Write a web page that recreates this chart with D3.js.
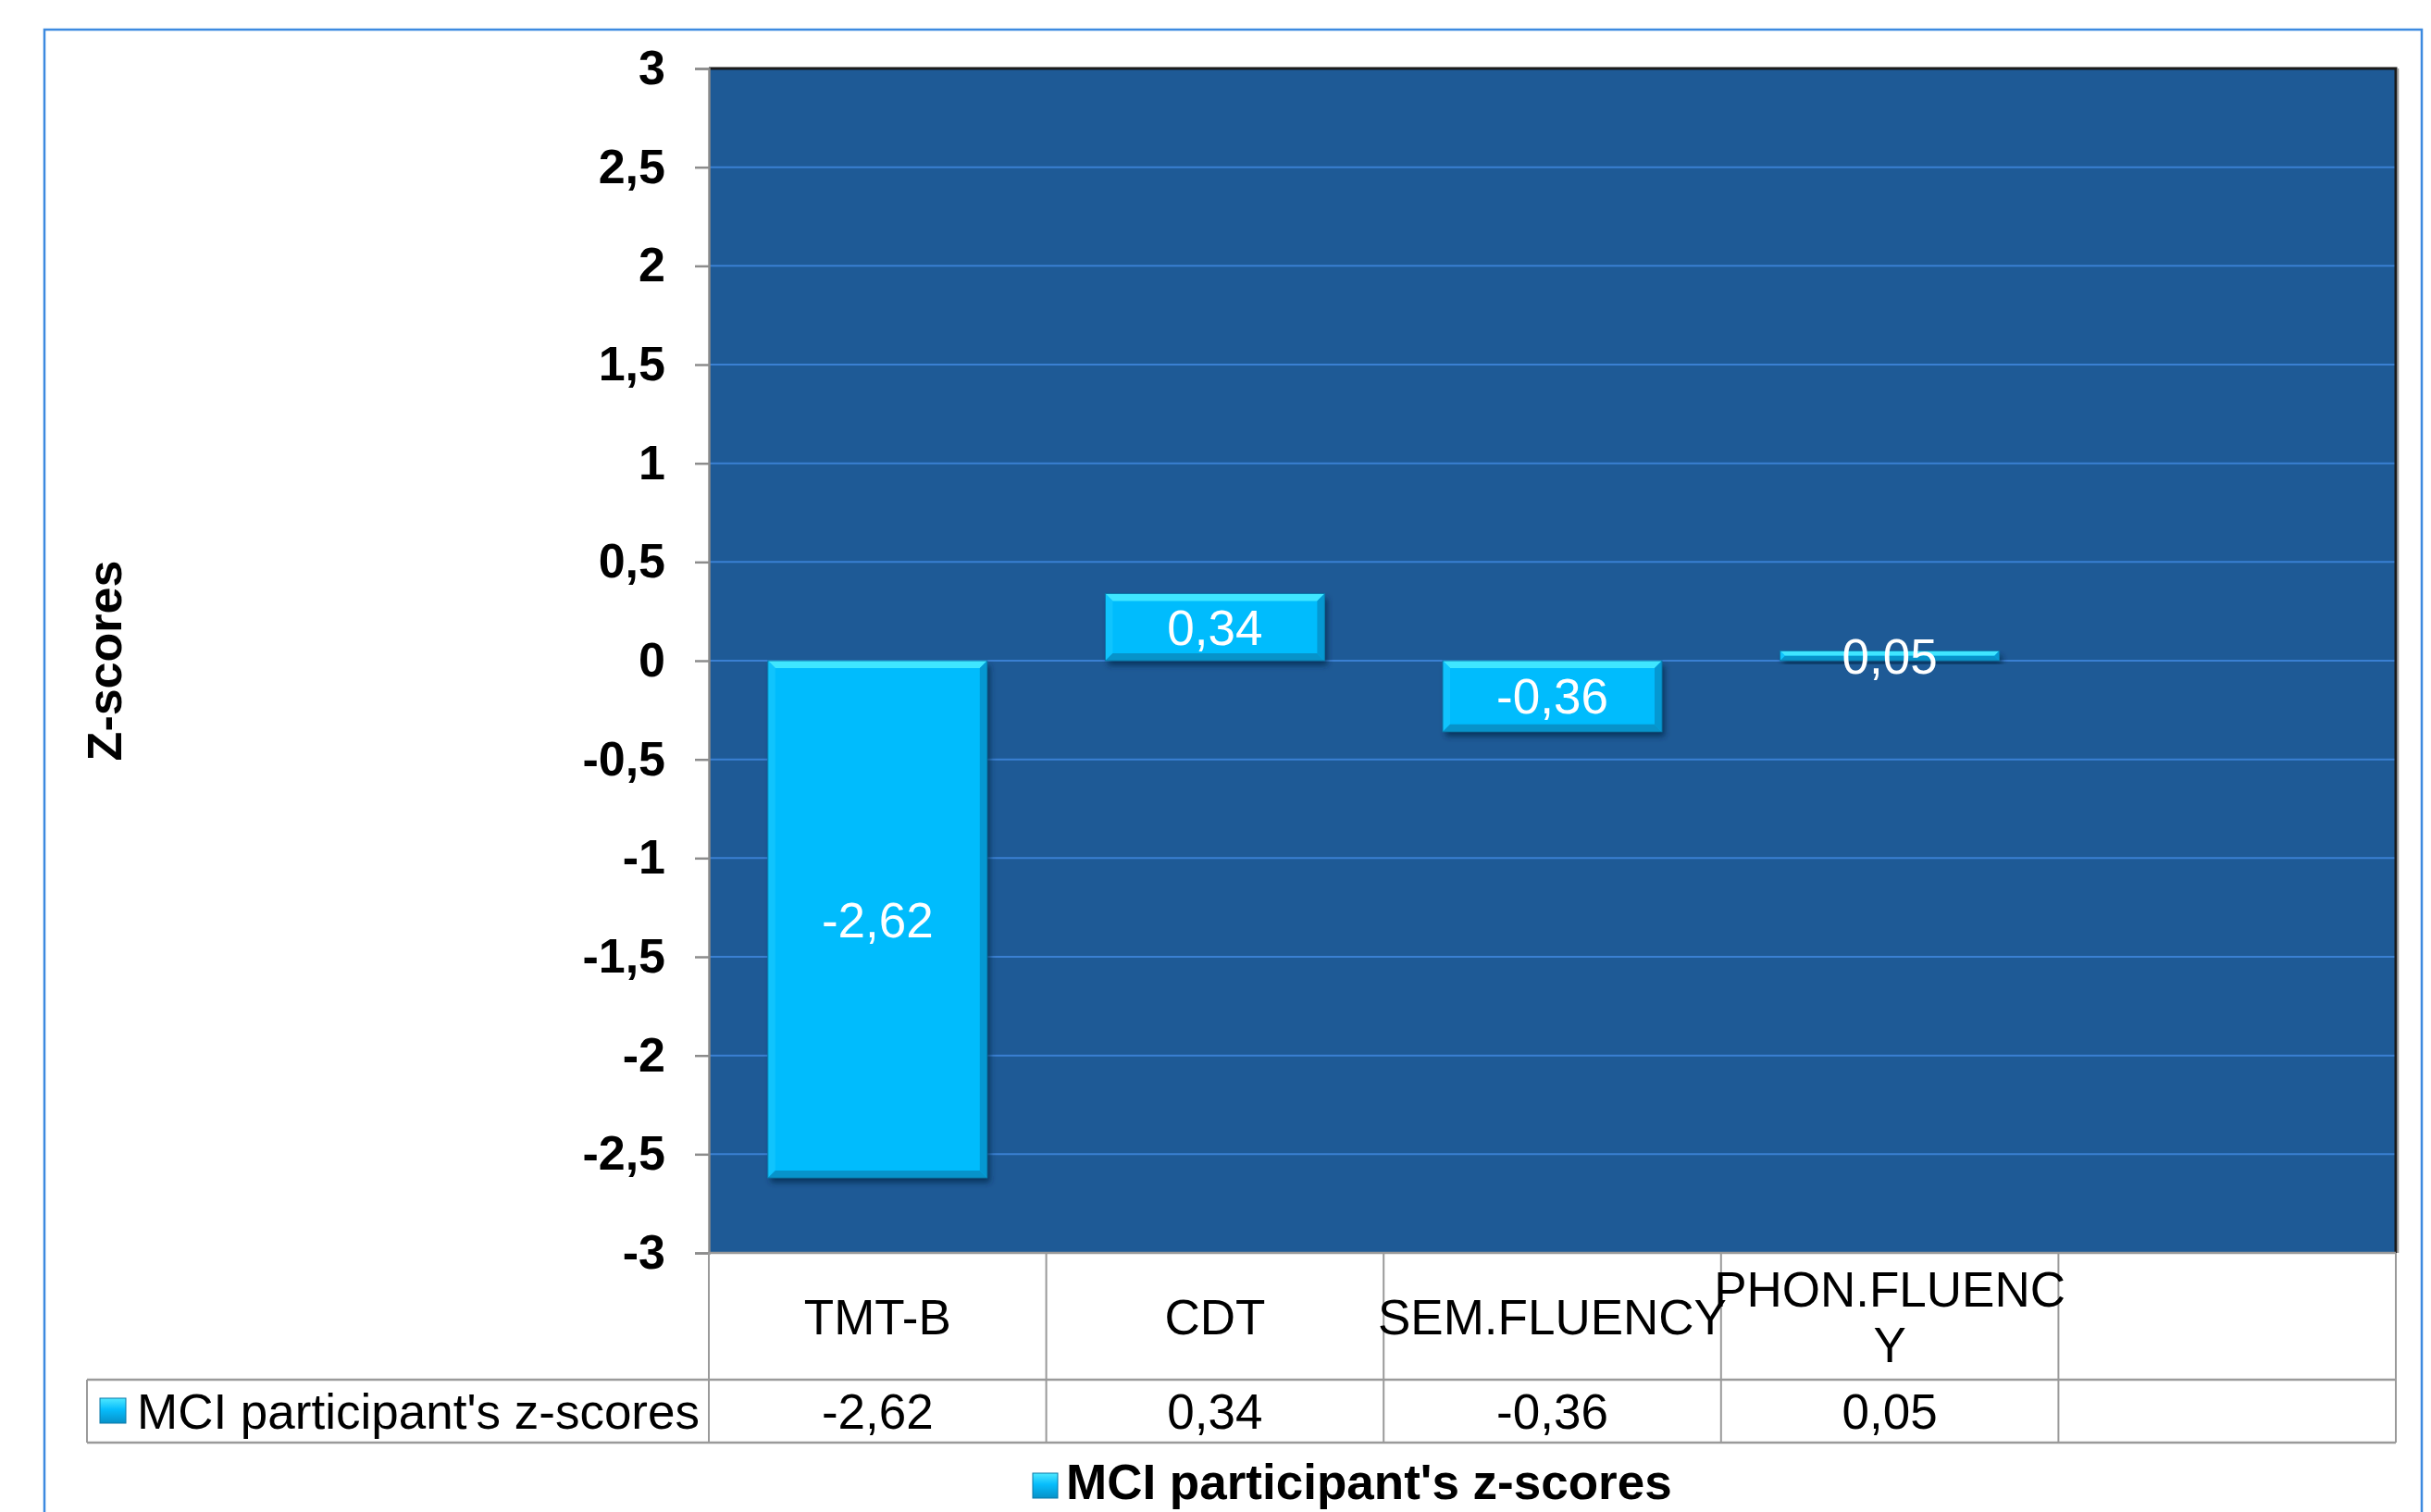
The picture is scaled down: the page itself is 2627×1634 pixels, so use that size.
<!DOCTYPE html>
<html>
<head>
<meta charset="utf-8">
<script src="https://cdn.jsdelivr.net/npm/d3@7"></script>
<style>
  html, body { margin: 0; padding: 0; background: #ffffff; }
  svg { display: block; font-family: "Liberation Sans", Arial, sans-serif; }
</style>
</head>
<body>
<svg id="chart" width="2627" height="1634"></svg>
<script>
// Test categories (the last, empty column is part of the data table layout)
const categories = ["TMT-B", "CDT", "SEM.FLUENCY", "PHON.FLUENCY", ""];
// Z-scores of the MCI participant, one per test
const zScores = [-2.62, 0.34, -0.36, 0.05];
const seriesName = "MCI participant's z-scores";
const yTitle = "Z-scores";
const yTicks = [-3, -2.5, -2, -1.5, -1, -0.5, 0, 0.5, 1, 1.5, 2, 2.5, 3];

const svg = d3.select("#chart");
const W = 2627, H = 1634;
const textSize = 53;

const plot = { left: 766, right: 2589, top: 74, bottom: 1354 };
const table = { catBottom: 1491, valBottom: 1559, keyLeft: 94 };

const fmt = v => String(v).replace(".", ",");

const x = d3.scaleBand()
  .domain(categories)
  .range([plot.left, plot.right])
  .paddingInner(0.35)
  .paddingOuter(0.175);

const y = d3.scaleLinear()
  .domain([-3, 3])
  .range([plot.bottom, plot.top]);

const defs = svg.append("defs");
const shadow = defs.append("filter").attr("id", "barShadow")
  .attr("x", "-10%").attr("y", "-10%").attr("width", "130%").attr("height", "140%");
shadow.append("feDropShadow")
  .attr("dx", 3).attr("dy", 5).attr("stdDeviation", 3)
  .attr("flood-color", "#06264a").attr("flood-opacity", 0.75);

const keyGrad = defs.append("linearGradient").attr("id", "keyGrad")
  .attr("x1", 0).attr("y1", 0).attr("x2", 0).attr("y2", 1);
keyGrad.append("stop").attr("offset", "0%").attr("stop-color", "#4fe8ff");
keyGrad.append("stop").attr("offset", "45%").attr("stop-color", "#07bdfc");
keyGrad.append("stop").attr("offset", "100%").attr("stop-color", "#0791c8");

// Outer chart frame
svg.append("rect")
  .attr("x", 48).attr("y", 32)
  .attr("width", 2617 - 48).attr("height", H)
  .attr("fill", "none")
  .attr("stroke", "#3d8ae0").attr("stroke-width", 2.5);

// Plot background
svg.append("rect")
  .attr("x", plot.left).attr("y", plot.top)
  .attr("width", plot.right - plot.left).attr("height", plot.bottom - plot.top)
  .attr("fill", "#1e5a96");

// Horizontal gridlines
svg.append("g")
  .selectAll("line")
  .data(yTicks.filter(t => t > -3 && t < 3))
  .join("line")
  .attr("x1", plot.left).attr("x2", plot.right)
  .attr("y1", d => y(d)).attr("y2", d => y(d))
  .attr("stroke", "#3a80d2").attr("stroke-width", 2);

// Plot border (top and right) with a soft edge
svg.append("path")
  .attr("d", `M${plot.left},${plot.top}H${plot.right}V${plot.bottom}`)
  .attr("fill", "none").attr("stroke", "#1a1a1a").attr("stroke-width", 3);
svg.append("line")
  .attr("x1", plot.right + 2.5).attr("x2", plot.right + 2.5)
  .attr("y1", plot.top).attr("y2", plot.bottom)
  .attr("stroke", "#9a9a9a").attr("stroke-width", 1.5);

// Bars with bevelled faces
const bars = svg.append("g").selectAll("g.bar")
  .data(zScores.map((v, i) => ({ cat: categories[i], v })))
  .join("g").attr("class", "bar");

bars.each(function (d) {
  const g = d3.select(this);
  const x0 = x(d.cat), w = x.bandwidth();
  const y0 = y(Math.max(0, d.v)), h = Math.abs(y(d.v) - y(0));
  const b = Math.min(8, h / 2, w / 2);
  g.append("rect")
    .attr("x", x0).attr("y", y0).attr("width", w).attr("height", h)
    .attr("fill", "#06bcfd").attr("filter", "url(#barShadow)");
  const faces = [
    { pts: [[x0, y0], [x0 + w, y0], [x0 + w - b, y0 + b], [x0 + b, y0 + b]], fill: "#3fe6ff" },
    { pts: [[x0, y0], [x0 + b, y0 + b], [x0 + b, y0 + h - b], [x0, y0 + h]], fill: "#10c4fd" },
    { pts: [[x0 + w, y0], [x0 + w, y0 + h], [x0 + w - b, y0 + h - b], [x0 + w - b, y0 + b]], fill: "#0598d2" },
    { pts: [[x0, y0 + h], [x0 + b, y0 + h - b], [x0 + w - b, y0 + h - b], [x0 + w, y0 + h]], fill: "#0793ca" }
  ];
  g.selectAll("polygon").data(faces).join("polygon")
    .attr("points", f => f.pts.map(p => p.join(",")).join(" "))
    .attr("fill", f => f.fill);
  g.append("rect")
    .attr("x", x0).attr("y", y0).attr("width", w).attr("height", h)
    .attr("fill", "none").attr("stroke", "#0a78a8").attr("stroke-width", 1);
});

// Data labels centred on the bars
svg.append("g").selectAll("text")
  .data(zScores.map((v, i) => ({ cat: categories[i], v })))
  .join("text")
  .attr("x", d => x(d.cat) + x.bandwidth() / 2)
  .attr("y", d => (y(d.v) + y(0)) / 2)
  .attr("dy", "0.36em")
  .attr("text-anchor", "middle")
  .attr("font-size", textSize)
  .attr("fill", "#ffffff")
  .text(d => fmt(d.v));

// Value axis
const yAxis = d3.axisLeft(y)
  .tickValues(yTicks)
  .tickSize(15)
  .tickPadding(32)
  .tickFormat(fmt);
const yg = svg.append("g")
  .attr("transform", `translate(${plot.left},0)`)
  .call(yAxis);
yg.select(".domain").attr("stroke", "#8c8c8c").attr("stroke-width", 2.5);
yg.selectAll(".tick line").attr("stroke", "#8c8c8c").attr("stroke-width", 2.5);
yg.selectAll(".tick text")
  .attr("font-size", 52).attr("font-weight", "bold")
  .attr("fill", "#000").attr("font-family", "'Liberation Sans', Arial, sans-serif");

// Value axis title
svg.append("text")
  .attr("transform", `translate(131,714) rotate(-90)`)
  .attr("text-anchor", "middle")
  .attr("font-size", 52).attr("font-weight", "bold")
  .text(yTitle);

// Data table below the plot
const step = x.step();
const colLeft = c => x(c) - (step - x.bandwidth()) / 2;
const gridStroke = "#9a9a9a";
const tg = svg.append("g");

tg.append("line")
  .attr("x1", plot.left).attr("x2", plot.right)
  .attr("y1", plot.bottom).attr("y2", plot.bottom)
  .attr("stroke", gridStroke).attr("stroke-width", 2.5);
tg.append("line")
  .attr("x1", table.keyLeft).attr("x2", plot.right)
  .attr("y1", table.catBottom).attr("y2", table.catBottom)
  .attr("stroke", gridStroke).attr("stroke-width", 2.5);
tg.append("line")
  .attr("x1", table.keyLeft).attr("x2", plot.right)
  .attr("y1", table.valBottom).attr("y2", table.valBottom)
  .attr("stroke", gridStroke).attr("stroke-width", 2.5);
tg.append("line")
  .attr("x1", table.keyLeft).attr("x2", table.keyLeft)
  .attr("y1", table.catBottom).attr("y2", table.valBottom)
  .attr("stroke", gridStroke).attr("stroke-width", 2);
tg.selectAll("line.col")
  .data(categories.map(colLeft).concat([plot.right]))
  .join("line").attr("class", "col")
  .attr("x1", d => d).attr("x2", d => d)
  .attr("y1", plot.bottom).attr("y2", table.valBottom)
  .attr("stroke", gridStroke).attr("stroke-width", 2);

// Category labels, wrapped by character when wider than the cell allows
const catCenterY = (plot.bottom + table.catBottom) / 2;
const maxLine = step * 1.05;
categories.forEach(c => {
  if (!c) return;
  const t = tg.append("text")
    .attr("text-anchor", "middle")
    .attr("font-size", textSize)
    .attr("fill", "#000");
  const cx = x(c) + x.bandwidth() / 2;
  t.text(c);
  let lines = [c];
  if (t.node().getComputedTextLength() > maxLine) {
    let cur = "";
    lines = [];
    for (const ch of c) {
      t.text(cur + ch);
      if (t.node().getComputedTextLength() > maxLine && cur) {
        lines.push(cur);
        cur = ch;
      } else {
        cur += ch;
      }
    }
    lines.push(cur);
  }
  t.text(null);
  const lh = 60;
  const first = catCenterY - (lines.length - 1) * lh / 2;
  lines.forEach((ln, i) => {
    t.append("tspan")
      .attr("x", cx)
      .attr("y", first + i * lh)
      .attr("dy", "0.36em")
      .text(ln);
  });
});

// Values row
const valCenterY = (table.catBottom + table.valBottom) / 2;
tg.selectAll("text.val")
  .data(zScores.map((v, i) => ({ cat: categories[i], v })))
  .join("text").attr("class", "val")
  .attr("x", d => x(d.cat) + x.bandwidth() / 2)
  .attr("y", valCenterY).attr("dy", "0.36em")
  .attr("text-anchor", "middle")
  .attr("font-size", textSize)
  .text(d => fmt(d.v));

// Series key inside the table
tg.append("rect")
  .attr("x", 108).attr("y", 1511).attr("width", 28).attr("height", 27)
  .attr("fill", "url(#keyGrad)").attr("stroke", "#0a78a8").attr("stroke-width", 1);
tg.append("text")
  .attr("x", 148).attr("y", valCenterY).attr("dy", "0.36em")
  .attr("font-size", textSize)
  .text(seriesName);

// Legend
const lg = svg.append("g");
lg.append("rect")
  .attr("x", 1116).attr("y", 1592).attr("width", 27).attr("height", 27)
  .attr("fill", "url(#keyGrad)").attr("stroke", "#0a78a8").attr("stroke-width", 1);
lg.append("text")
  .attr("x", 1152).attr("y", 1620)
  .attr("font-size", 53).attr("font-weight", "bold")
  .text(seriesName);
</script>
</body>
</html>
